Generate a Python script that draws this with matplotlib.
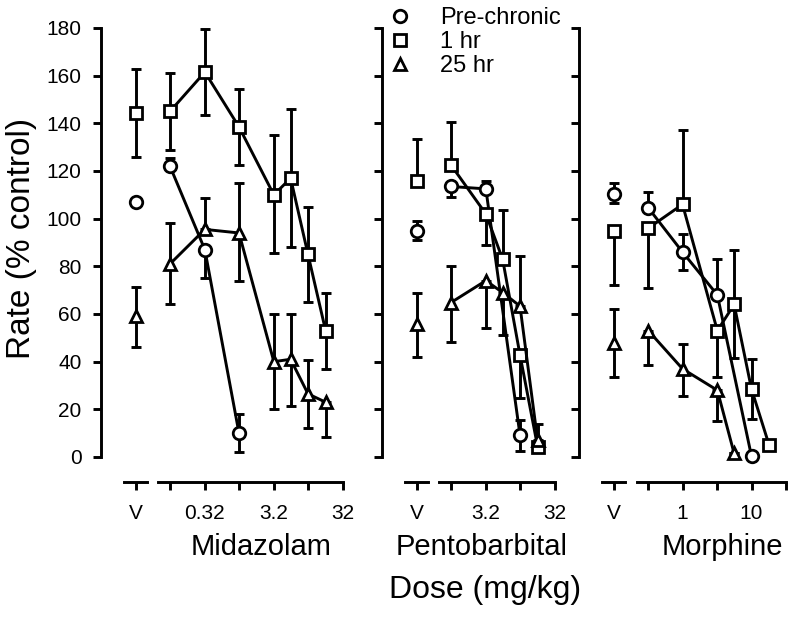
import numpy as np
import matplotlib.pyplot as plt
from matplotlib.lines import Line2D

plt.rcParams['font.family'] = ['Liberation Sans', 'DejaVu Sans']

nan = np.nan

series_names = ['Pre-chronic', '1 hr', '25 hr']
series_markers = ['o', 's', '^']
series_ms = [9, 8, 9]

# Midazolam (mg/kg)
mid_doses = [0.1, 0.32, 1.0, 3.2, 5.6, 10, 18]
mid_ticks = [0.1, 0.32, 1, 3.2, 10, 32]
mid_ticklabels = ['', '0.32', '', '3.2', '', '32']
mid_veh = [107, 144.5, 59]
mid_veh_lo = [1.5, 18.5, 13]
mid_veh_hi = [1.5, 18.5, 12.5]
mid_pre = [122, 87, 10, nan, nan, nan, nan]
mid_pre_lo = [0, 12, 8, 0, 0, 0, 0]
mid_pre_hi = [3.5, 0, 8, 0, 0, 0, 0]
mid_1hr = [145, 161.5, 138.5, 110, 117, 85, 53]
mid_1hr_lo = [16, 18, 16, 24.5, 29, 20, 16]
mid_1hr_hi = [16, 18, 16, 25, 29, 20, 16]
mid_25hr = [81, 95.5, 94, 40, 41, 26.5, 23]
mid_25hr_lo = [17, 0, 20, 20, 19.5, 14.5, 14.5]
mid_25hr_hi = [17, 13, 21, 20, 19, 14, 0]

# Pentobarbital (mg/kg)
pen_doses = [1.0, 3.2, 5.6, 10, 18]
pen_ticks = [1, 3.2, 10, 32]
pen_ticklabels = ['', '3.2', '', '32']
pen_veh = [95, 116, 56]
pen_veh_lo = [4, 0, 14]
pen_veh_hi = [4, 17.5, 13]
pen_pre = [113.5, 112.5, nan, 9.2, nan]
pen_pre_lo = [4.5, 0, 0, 6.5, 0]
pen_pre_hi = [0, 3.5, 0, 6.5, 0]
pen_1hr = [122.5, 102, 83, 42.8, 4.3]
pen_1hr_lo = [0, 13, 0, 18, 0]
pen_1hr_hi = [18, 0, 20.5, 0, 0]
pen_25hr = [64.8, 74, 69, 63.3, 7]
pen_25hr_lo = [16.5, 20, 18, 0, 0]
pen_25hr_hi = [15.5, 0, 0, 21, 7]

# Morphine (mg/kg)
mor_doses = [0.32, 1.0, 3.2, 5.6, 10, 18]
mor_ticks = [0.32, 1, 3.2, 10, 32]
mor_ticklabels = ['', '1', '', '10', '']
mor_veh = [110.5, 95, 48]
mor_veh_lo = [4, 23, 14.5]
mor_veh_hi = [4.5, 0, 14]
mor_pre = [104.5, 86, 68, nan, 0.3, nan]
mor_pre_lo = [0, 7.5, 0, 0, 0, 0]
mor_pre_hi = [6.5, 7.5, 15, 0, 0, 0]
mor_1hr = [96, 106, 53, 64, 28.5, 5]
mor_1hr_lo = [25, 0, 19.5, 22.5, 12.5, 2]
mor_1hr_hi = [0, 31, 0, 23, 12.5, 2]
mor_25hr = [53, 37, 28, 1.5, nan, nan]
mor_25hr_lo = [14.5, 11.5, 13, 0, 0, 0]
mor_25hr_hi = [0, 10.5, 0, 0, 0, 0]

W, H = 800, 618
PX_DEC = 69.0          # pixels per decade of dose
BOT, HGT = 161, 429    # axes bottom / height in pixels
LW = 2.1
MEW = 2.0

fig = plt.figure(figsize=(W / 100, H / 100), dpi=100)


def draw_panel(left_px, xlo, xhi, v_dose, ticks, ticklabels, doses,
               veh, veh_lo, veh_hi, series, show_ylabels):
    width_px = PX_DEC * np.log10(xhi / xlo)
    rect = [left_px / W, BOT / H, width_px / W, HGT / H]
    vax = fig.add_axes(rect)
    ax = fig.add_axes(rect)
    for a in (vax, ax):
        a.set_xscale('log')
        a.set_xlim(xlo, xhi)
        a.set_ylim(0, 180)
        a.patch.set_visible(False)
        a.spines['top'].set_visible(False)
        a.spines['right'].set_visible(False)
        a.spines['bottom'].set_position(('outward', 18))
        a.spines['bottom'].set_linewidth(LW)
        a.xaxis.set_minor_locator(plt.NullLocator())
        a.tick_params(axis='both', direction='out', length=6, width=LW,
                      labelsize=15, pad=8)
        a.tick_params(axis='x', pad=10)
    vax.spines['left'].set_visible(False)
    vax.set_yticks([])
    vax.spines['bottom'].set_bounds(v_dose * 10 ** -0.17, v_dose * 10 ** 0.17)
    vax.set_xticks([v_dose])
    vax.set_xticklabels(['V'])

    ax.spines['left'].set_linewidth(LW)
    ax.spines['bottom'].set_bounds(ticks[0] * 10 ** -0.17, ticks[-1])
    ax.set_xticks(ticks)
    ax.set_xticklabels(ticklabels)
    ax.set_yticks(np.arange(0, 181, 20))
    if not show_ylabels:
        ax.tick_params(axis='y', labelleft=False)

    d = np.array(doses, dtype=float)
    for i, (y, lo, hi) in enumerate(series):
        y = np.array(y, dtype=float)
        m = ~np.isnan(y)
        ax.errorbar(d[m], y[m], yerr=[np.array(lo)[m], np.array(hi)[m]],
                    fmt='none', ecolor='black', elinewidth=LW, capsize=3.6,
                    capthick=LW, zorder=2, clip_on=False)
        ax.errorbar([v_dose], [veh[i]], yerr=[[veh_lo[i]], [veh_hi[i]]],
                    fmt='none', ecolor='black', elinewidth=LW, capsize=3.6,
                    capthick=LW, zorder=2, clip_on=False)
    for i, (y, lo, hi) in enumerate(series):
        y = np.array(y, dtype=float)
        m = ~np.isnan(y)
        ax.plot(d[m], y[m], color='black', lw=LW, marker=series_markers[i],
                ms=series_ms[i], mfc='white', mec='black', mew=MEW,
                zorder=3 + i * 0.1, clip_on=False)
        ax.plot([v_dose], [veh[i]], color='black', ls='none',
                marker=series_markers[i], ms=series_ms[i], mfc='white',
                mec='black', mew=MEW, zorder=3 + i * 0.1, clip_on=False)
    return ax


draw_panel(101, 0.01, 50, 10 ** -1.5, mid_ticks, mid_ticklabels, mid_doses,
           mid_veh, mid_veh_lo, mid_veh_hi,
           [(mid_pre, mid_pre_lo, mid_pre_hi),
            (mid_1hr, mid_1hr_lo, mid_1hr_hi),
            (mid_25hr, mid_25hr_lo, mid_25hr_hi)], True)
draw_panel(382, 0.1, 50, 10 ** -0.5, pen_ticks, pen_ticklabels, pen_doses,
           pen_veh, pen_veh_lo, pen_veh_hi,
           [(pen_pre, pen_pre_lo, pen_pre_hi),
            (pen_1hr, pen_1hr_lo, pen_1hr_hi),
            (pen_25hr, pen_25hr_lo, pen_25hr_hi)], False)
draw_panel(579, 10 ** -1.5, 50, 0.1, mor_ticks, mor_ticklabels, mor_doses,
           mor_veh, mor_veh_lo, mor_veh_hi,
           [(mor_pre, mor_pre_lo, mor_pre_hi),
            (mor_1hr, mor_1hr_lo, mor_1hr_hi),
            (mor_25hr, mor_25hr_lo, mor_25hr_hi)], False)

# legend
handles = [Line2D([], [], ls='none', marker=mk, ms=ms, mfc='white', mec='black', mew=MEW)
           for mk, ms in zip(series_markers, series_ms)]
fig.legend(handles, series_names, loc='upper left',
           bbox_to_anchor=(388 / W, 1 - 7 / H), frameon=False, fontsize=17,
           handlelength=1.0, handletextpad=1.2, labelspacing=0.09,
           borderpad=0, borderaxespad=0)

# labels
fig.text(22 / W, 1 - 238 / H, 'Rate (% control)', rotation=90, fontsize=24,
         ha='center', va='center')
fig.text(261 / W, 1 - 547 / H, 'Midazolam', fontsize=21, ha='center', va='center')
fig.text(482 / W, 1 - 547 / H, 'Pentobarbital', fontsize=21, ha='center', va='center')
fig.text(722 / W, 1 - 547 / H, 'Morphine', fontsize=21, ha='center', va='center')
fig.text(485 / W, 1 - 590 / H, 'Dose (mg/kg)', fontsize=23, ha='center', va='center')

fig.savefig('out.png', dpi=100)
